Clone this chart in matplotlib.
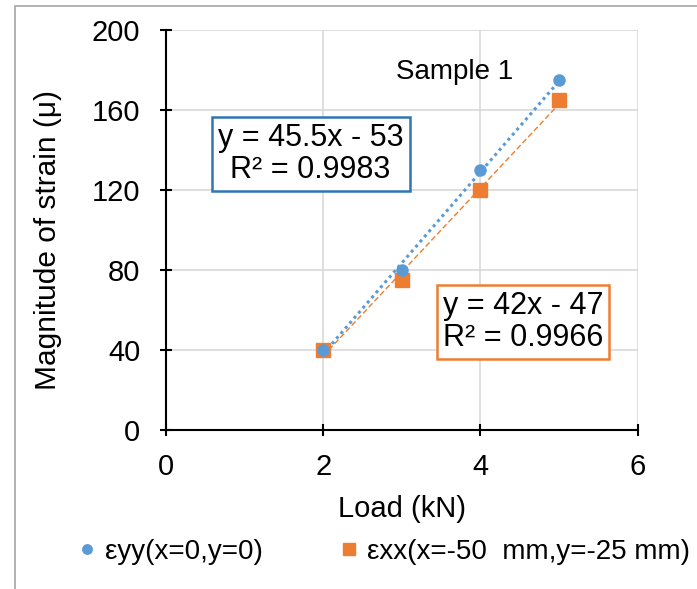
import numpy as np
import matplotlib.pyplot as plt
from matplotlib.patches import Rectangle

plt.rcParams['font.family'] = ['Liberation Sans', 'DejaVu Sans']

# Load steps (kN) and measured strain for each gauge
load = [2, 3, 4, 5]
strain_yy = [40, 80, 130, 175]
strain_xx = [40, 75, 120, 165]

label_yy = 'εyy(x=0,y=0)'
label_xx = 'εxx(x=-50  mm,y=-25 mm)'

blue = '#5B9BD5'
orange = '#ED7D31'

fig = plt.figure(figsize=(6.97, 5.89), dpi=100)
ax = fig.add_axes([0.238, 0.270, 0.677, 0.679])

# outer frame around the chart
fig.patches.append(Rectangle((15 / 697, -0.1), 1.0, 1 - 6 / 589 + 0.1,
                             transform=fig.transFigure, fill=False,
                             edgecolor='#A6A6A6', linewidth=1.2))

ax.plot(load, strain_yy, 'o', color=blue, markersize=8, label=label_yy, zorder=4)
ax.plot(load, strain_xx, 's', color=orange, markersize=10, label=label_xx, zorder=3)

# linear trendlines
x = np.array(load, dtype=float)
for y, col, ls, lw in [(strain_xx, orange, (0, (4, 2)), 1.0),
                       (strain_yy, blue, (0, (1, 1.2)), 2.2)]:
    slope, icpt = np.polyfit(x, y, 1)
    ax.plot(x, slope * x + icpt, color=col, linestyle=ls, linewidth=lw, zorder=2)

ax.set_xlim(0, 6)
ax.set_ylim(0, 200)
ax.set_xticks([0, 2, 4, 6])
ax.set_yticks(range(0, 201, 40))
ax.grid(True, color='#D9D9D9', linewidth=1.2)
ax.set_axisbelow(True)
for s in ['top', 'right']:
    ax.spines[s].set_visible(False)
for s in ['left', 'bottom']:
    ax.spines[s].set_linewidth(1.5)
ax.tick_params(direction='inout', length=9, width=1.5, labelsize=21)
ax.tick_params(axis='y', pad=14)
ax.tick_params(axis='x', pad=12)

ax.set_xlabel('Load (kN)', fontsize=21, labelpad=10)
ax.set_ylabel('Magnitude of strain (μ)', fontsize=21.5)
ax.yaxis.set_label_coords(-0.22, 0.475)

ax.text(3.67, 179, 'Sample 1', fontsize=20, ha='center', va='center')
ax.text(1.84, 138, 'y = 45.5x - 53\nR² = 0.9983', fontsize=22, ha='center',
        va='center', linespacing=1.05,
        bbox=dict(boxstyle='square,pad=0.2', fc='white', ec='#2E75B6', lw=1.8))
ax.text(4.54, 54, 'y = 42x - 47\nR² = 0.9966', fontsize=22, ha='center',
        va='center', linespacing=1.05,
        bbox=dict(boxstyle='square,pad=0.2', fc='white', ec=orange, lw=1.8))

fig.legend(loc='center', bbox_to_anchor=(0.552, 0.063), ncol=2, frameon=False,
           fontsize=20, handlelength=0.6, handletextpad=0.35, columnspacing=2.8,
           markerscale=0.85)

fig.savefig('out.png', dpi=100)
